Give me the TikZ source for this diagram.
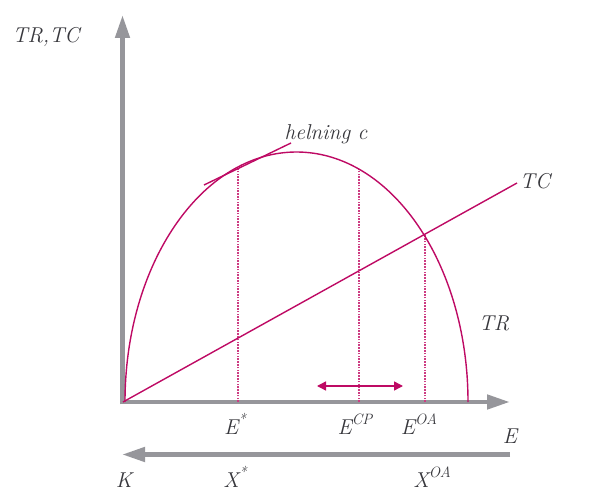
\documentclass[tikz,border=0pt]{standalone}
\usepackage{fontspec}
\usetikzlibrary{arrows.meta}
\definecolor{curvecol}{RGB}{190,10,100}
\definecolor{guidecol}{RGB}{205,60,130}
\definecolor{axiscol}{RGB}{150,150,155}
\definecolor{textcol}{RGB}{55,55,60}
\newcommand{\supit}[1]{\raisebox{0.42em}{\fontsize{15}{15}\selectfont\itshape #1}}
\tikzset{
  axisline/.style={draw=axiscol, line width=4.6pt, -{Triangle[length=23pt,width=14pt]}},
  curveline/.style={draw=curvecol, line width=1.4pt},
  guide/.style={draw=guidecol, line width=1.1pt, dash pattern=on 1.6pt off 1.2pt},
  lbl/.style={inner sep=0pt, anchor=base, text=textcol, font=\fontsize{21.5}{25}\selectfont\itshape},
  dblarrow/.style={draw=curvecol, line width=1.4pt, {Triangle[length=9pt,width=9pt]}-{Triangle[length=9pt,width=9pt]}}
}
\begin{document}
\begin{tikzpicture}[x=1pt,y=1pt]
\useasboundingbox (0,0) rectangle (589,496);
% coordinates
\coordinate (ytip) at (122.5,481);
\coordinate (ybot) at (122.5,91.7);
\coordinate (xstart) at (120.2,94);
\coordinate (xtip) at (510,94);
\coordinate (kstart) at (510,41.5);
\coordinate (ktip) at (122,41.5);
\coordinate (trstart) at (125,94);
\coordinate (tcstart) at (123,94);
\coordinate (tcend) at (517,313);
\coordinate (tanA) at (204,311);
\coordinate (tanB) at (291,353);
\coordinate (g1b) at (238,94);
\coordinate (g1t) at (238,329);
\coordinate (g2b) at (359,94);
\coordinate (g2t) at (359,327);
\coordinate (g3b) at (425,94);
\coordinate (g3t) at (425,261);
\coordinate (daL) at (317,110);
\coordinate (daR) at (403,110);
% axes
\draw[axisline] (ybot) -- (ytip);
\draw[axisline] (xstart) -- (xtip);
\draw[axisline] (kstart) -- (ktip);
% guides
\draw[guide] (g1b) -- (g1t);
\draw[guide] (g2b) -- (g2t);
\draw[guide] (g3b) -- (g3t);
% curves
\draw[curveline] (trstart) arc[start angle=180, end angle=0, x radius=171.5, y radius=250];
\draw[curveline] (tcstart) -- (tcend);
\draw[curveline] (tanA) -- (tanB);
\draw[dblarrow] (daL) -- (daR);
% labels
\node[lbl] (ltrtc) at (46,453) {TR,TC};
\node[lbl] (lhel) at (326,356) {helning c};
\node[lbl] (ltc) at (535,307) {TC};
\node[lbl] (ltr) at (494,166) {TR};
\node[lbl] (lestar) at (235,62) {E\supit{*}};
\node[lbl] (lecp) at (355,62) {E\supit{CP}};
\node[lbl] (leoa) at (419,62) {E\supit{OA}};
\node[lbl] (le) at (510,53) {E};
\node[lbl] (lk) at (124,9) {K};
\node[lbl] (lxstar) at (235,9) {X\supit{*}};
\node[lbl] (lxoa) at (432,9) {X\supit{OA}};
\end{tikzpicture}
\end{document}
